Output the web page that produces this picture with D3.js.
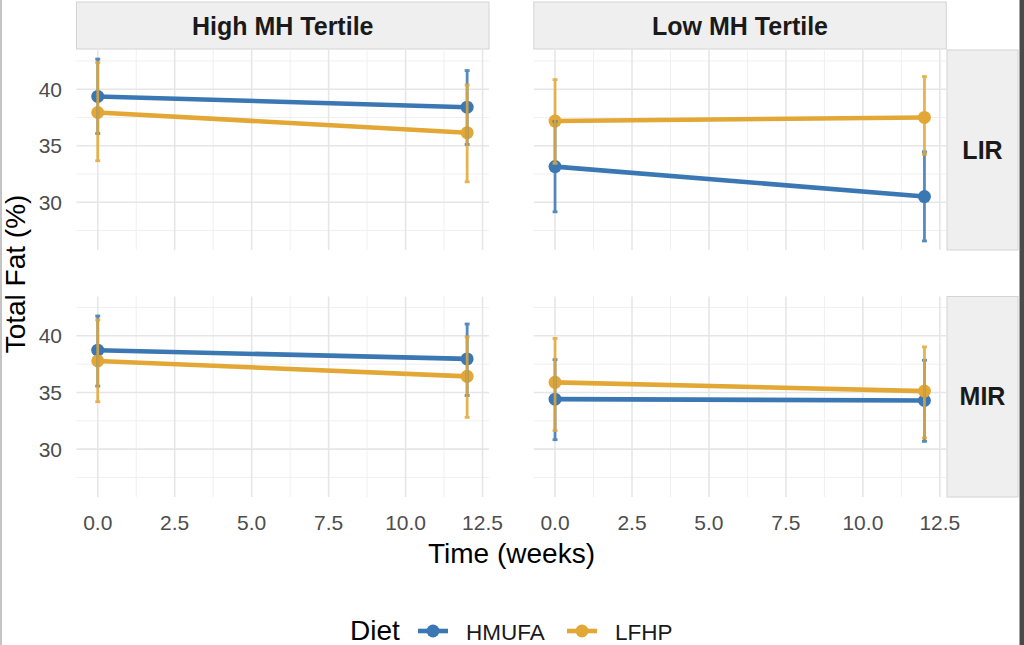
<!DOCTYPE html>
<html>
<head>
<meta charset="utf-8">
<script src="https://cdn.jsdelivr.net/npm/d3@7"></script>
<style>
  body { margin: 0; background: #fff; }
  text { font-family: "Liberation Sans", Arial, sans-serif; }
</style>
</head>
<body>
<div id="facet_dataviz"></div>
<script>
// data
const times = [0, 12];
const tertiles = ["High MH Tertile", "Low MH Tertile"];
const irGroups = ["LIR", "MIR"];
const diets = ["HMUFA", "LFHP"];
const dietColors = ["#3a77b3", "#e2a735"];
const xTicks = [0, 2.5, 5, 7.5, 10, 12.5];
const xMinor = [1.25, 3.75, 6.25, 8.75, 11.25];
const yTicks = [30, 35, 40];
const yMinor = [27.5, 32.5, 37.5, 42.5];

// panel order: High-LIR, Low-LIR, High-MIR, Low-MIR ; each [week 0, week 12]
const hmufaMean  = [[39.36, 38.41], [33.15, 30.50], [38.73, 37.96], [34.41, 34.29]];
const hmufaLower = [[36.08, 35.11], [29.15, 26.57], [35.56, 34.73], [30.83, 30.68]];
const hmufaUpper = [[42.67, 41.65], [37.15, 34.46], [41.75, 41.04], [37.90, 37.84]];
const lfhpMean   = [[37.94, 36.15], [37.18, 37.50], [37.78, 36.42], [35.89, 35.12]];
const lfhpLower  = [[33.67, 31.80], [33.44, 34.24], [34.18, 32.80], [31.63, 30.98]];
const lfhpUpper  = [[42.36, 40.38], [40.85, 41.12], [41.40, 39.90], [39.77, 39.02]];

const means = [hmufaMean, lfhpMean];
const lowers = [hmufaLower, lfhpLower];
const uppers = [hmufaUpper, lfhpUpper];

const W = 1024, H = 645;
const colX = [[76.5, 489], [533.8, 946.3]];
const rowY = [[50, 250], [296.5, 497]];

const svg = d3.select("#facet_dataviz")
  .append("svg")
    .attr("width", W)
    .attr("height", H);

// thin frame edges seen in the picture
svg.append("rect").attr("x", 0).attr("y", 0).attr("width", 2).attr("height", H).attr("fill", "#c4c4c4");
svg.append("rect").attr("x", 1019.5).attr("y", 0).attr("width", 4.5).attr("height", H).attr("fill", "#4a4a4a");

const y0 = d3.scaleLinear().domain([25.77, 43.47]);
const x0 = d3.scaleLinear().domain([-0.69, 12.71]);

// column strips (top)
tertiles.forEach(function(t, c) {
  const g = svg.append("g");
  g.append("rect")
    .attr("x", colX[c][0]).attr("y", 2)
    .attr("width", colX[c][1] - colX[c][0]).attr("height", 47)
    .attr("fill", "#efefef").attr("stroke", "#d4d4d4").attr("stroke-width", 1);
  g.append("text")
    .attr("x", (colX[c][0] + colX[c][1]) / 2).attr("y", 26 + 8.5)
    .attr("text-anchor", "middle")
    .attr("font-size", 25).attr("font-weight", "bold").attr("fill", "#1a1a1a")
    .text(t);
});

// row strips (right)
irGroups.forEach(function(r, ri) {
  const g = svg.append("g");
  g.append("rect")
    .attr("x", 947).attr("y", rowY[ri][0])
    .attr("width", 71).attr("height", rowY[ri][1] - rowY[ri][0])
    .attr("fill", "#efefef").attr("stroke", "#d4d4d4").attr("stroke-width", 1);
  g.append("text")
    .attr("x", 982.5).attr("y", (rowY[ri][0] + rowY[ri][1]) / 2 + 8.5)
    .attr("text-anchor", "middle")
    .attr("font-size", 25).attr("font-weight", "bold").attr("fill", "#1a1a1a")
    .text(r);
});

// draw each panel
irGroups.forEach(function(r, ri) {
  tertiles.forEach(function(t, c) {
    const p = ri * 2 + c;
    const x = x0.copy().range(colX[c]);
    const y = y0.copy().range([rowY[ri][1], rowY[ri][0]]);
    const g = svg.append("g");

    // grid
    g.selectAll(".ym").data(yMinor).join("line")
      .attr("x1", colX[c][0]).attr("x2", colX[c][1])
      .attr("y1", d => y(d)).attr("y2", d => y(d))
      .attr("stroke", "#f0f0f0").attr("stroke-width", 1);
    g.selectAll(".xm").data(xMinor).join("line")
      .attr("x1", d => x(d)).attr("x2", d => x(d))
      .attr("y1", rowY[ri][0]).attr("y2", rowY[ri][1])
      .attr("stroke", "#f0f0f0").attr("stroke-width", 1);
    g.selectAll(".yM").data(yTicks).join("line")
      .attr("x1", colX[c][0]).attr("x2", colX[c][1])
      .attr("y1", d => y(d)).attr("y2", d => y(d))
      .attr("stroke", "#e6e6e6").attr("stroke-width", 1.6);
    g.selectAll(".xM").data(xTicks).join("line")
      .attr("x1", d => x(d)).attr("x2", d => x(d))
      .attr("y1", rowY[ri][0]).attr("y2", rowY[ri][1])
      .attr("stroke", "#e6e6e6").attr("stroke-width", 1.6);

    // tick labels on outer panels
    if (c === 0) {
      g.selectAll(".yl").data(yTicks).join("text")
        .attr("x", 62).attr("y", d => y(d) + 7.5)
        .attr("text-anchor", "end")
        .attr("font-size", 21).attr("fill", "#4d4d4d")
        .text(d => d);
    }
    if (ri === 1) {
      g.selectAll(".xl").data(xTicks).join("text")
        .attr("x", d => x(d)).attr("y", 529.5)
        .attr("text-anchor", "middle")
        .attr("font-size", 21).attr("fill", "#4d4d4d")
        .text(d => d3.format(".1f")(d));
    }

    // lines
    diets.forEach(function(dn, di) {
      g.append("path")
        .datum(times.map((tm, i) => ({t: tm, v: means[di][p][i]})))
        .attr("fill", "none")
        .attr("stroke", dietColors[di])
        .attr("stroke-width", 4.6)
        .attr("d", d3.line().x(d => x(d.t)).y(d => y(d.v)));
    });
    // points
    diets.forEach(function(dn, di) {
      g.selectAll(".pt" + di).data(times).join("circle")
        .attr("cx", d => x(d))
        .attr("cy", (d, i) => y(means[di][p][i]))
        .attr("r", 6.5)
        .attr("fill", dietColors[di]);
    });
    // error bars
    diets.forEach(function(dn, di) {
      const eb = g.selectAll(".eb" + di).data(times).join("g")
        .attr("stroke", dietColors[di])
        .attr("stroke-width", 2.8)
        .attr("opacity", 0.85);
      eb.append("line")
        .attr("x1", d => x(d)).attr("x2", d => x(d))
        .attr("y1", (d, i) => y(lowers[di][p][i]))
        .attr("y2", (d, i) => y(uppers[di][p][i]));
      eb.append("line")
        .attr("x1", d => x(d - 0.08)).attr("x2", d => x(d + 0.08))
        .attr("y1", (d, i) => y(lowers[di][p][i]))
        .attr("y2", (d, i) => y(lowers[di][p][i]));
      eb.append("line")
        .attr("x1", d => x(d - 0.08)).attr("x2", d => x(d + 0.08))
        .attr("y1", (d, i) => y(uppers[di][p][i]))
        .attr("y2", (d, i) => y(uppers[di][p][i]));
    });
  });
});

// axis titles
svg.append("text")
  .attr("x", 511.5).attr("y", 563)
  .attr("text-anchor", "middle")
  .attr("font-size", 28).attr("fill", "#000")
  .text("Time (weeks)");
svg.append("text")
  .attr("transform", "translate(25,274) rotate(-90)")
  .attr("text-anchor", "middle")
  .attr("font-size", 28).attr("fill", "#000")
  .text("Total Fat (%)");

// legend
const legend = svg.append("g");
legend.append("text")
  .attr("x", 350).attr("y", 640)
  .attr("font-size", 28).attr("fill", "#000")
  .text("Diet");
const keyX = [418, 567];
diets.forEach(function(dn, di) {
  legend.append("line")
    .attr("x1", keyX[di]).attr("x2", keyX[di] + 30)
    .attr("y1", 631).attr("y2", 631)
    .attr("stroke", dietColors[di]).attr("stroke-width", 4.6);
  legend.append("circle")
    .attr("cx", keyX[di] + 15).attr("cy", 631).attr("r", 6.5)
    .attr("fill", dietColors[di]);
  legend.append("text")
    .attr("x", keyX[di] + 48).attr("y", 639.5)
    .attr("font-size", 22.5).attr("fill", "#1a1a1a")
    .text(dn);
});
</script>
</body>
</html>
